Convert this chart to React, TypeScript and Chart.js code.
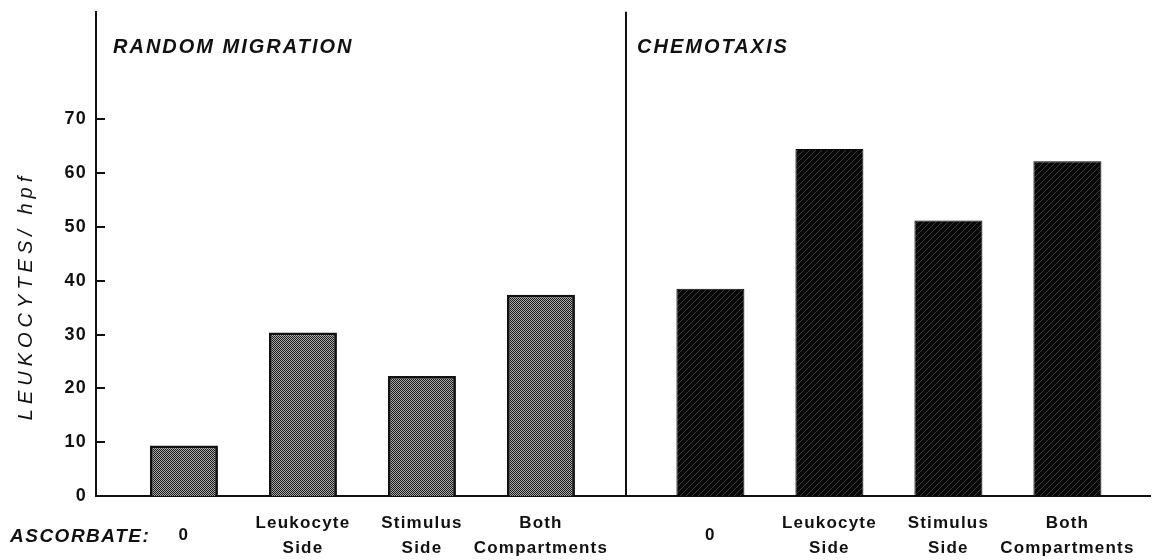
import React, { useEffect, useRef } from 'react';
import { Chart, registerables } from 'chart.js';

Chart.register(...registerables);

// ---- data ----
const conditionLabels: string[][] = [['0'], ['Leukocyte', 'Side'], ['Stimulus', 'Side'], ['Both', 'Compartments']];
const randomMigration = [9.4, 30.4, 22.3, 37.4];
const chemotaxis = [38.5, 64.5, 51.2, 62.2];
const panelTitles = ['RANDOM MIGRATION', 'CHEMOTAXIS'];
const yTickValues = [0, 10, 20, 30, 40, 50, 60, 70];
const yAxisTitle = 'LEUKOCYTES/ hpf';
const xAxisTitle = 'ASCORBATE:';

// ---- layout (in x-scale slot units) ----
const GROUP_OFFSET = 4.424;
const DIVIDER = 3.714;
const X_MIN = -0.739;
const X_MAX = 8.118;
const Y_MAX = 90;

const FONT = '"Liberation Sans", Arial, sans-serif';

function makeStipple(): CanvasPattern | string {
  const c = document.createElement('canvas');
  c.width = 2; c.height = 2;
  const g = c.getContext('2d');
  if (!g) return '#666';
  g.fillStyle = '#a9a9a9';
  g.fillRect(0, 0, 2, 2);
  g.fillStyle = '#1c1c1c';
  g.fillRect(0, 0, 1, 1);
  g.fillRect(1, 1, 1, 1);
  return g.createPattern(c, 'repeat') || '#666';
}

function makeHatch(): CanvasPattern | string {
  const s = 6;
  const c = document.createElement('canvas');
  c.width = s; c.height = s;
  const g = c.getContext('2d');
  if (!g) return '#111';
  g.fillStyle = '#080808';
  g.fillRect(0, 0, s, s);
  g.strokeStyle = '#484848';
  g.lineWidth = 0.8;
  for (let i = -1; i <= 1; i++) {
    g.beginPath();
    g.moveTo(i * s, s);
    g.lineTo(i * s + s, 0);
    g.stroke();
  }
  return g.createPattern(c, 'repeat') || '#111';
}

export default function App() {
  const ref = useRef<HTMLCanvasElement | null>(null);

  useEffect(() => {
    const canvas = ref.current;
    if (!canvas) return;

    const rmPoints = randomMigration.map((v, i) => ({ x: i, y: v }));
    const ctPoints = chemotaxis.map((v, i) => ({ x: i + GROUP_OFFSET, y: v }));
    const tickPositions = [...rmPoints.map(p => p.x), ...ctPoints.map(p => p.x)];

    const decor = {
      id: 'decor',
      beforeDraw(chart: any) {
        (chart.ctx as any).letterSpacing = '1.2px';
      },
      beforeDatasetsDraw(chart: any) {
        (chart.ctx as any).letterSpacing = '0px';
      },
      afterDraw(chart: any) {
        const ctx = chart.ctx as CanvasRenderingContext2D & { letterSpacing?: string };
        const xs = chart.scales.x;
        const ys = chart.scales.y;
        const area = chart.chartArea;
        ctx.save();
        ctx.strokeStyle = '#111';
        ctx.lineWidth = 2;
        // divider
        const dx = Math.round(xs.getPixelForValue(DIVIDER));
        ctx.beginPath();
        ctx.moveTo(dx, area.top);
        ctx.lineTo(dx, area.bottom);
        ctx.stroke();
        // inward y ticks
        yTickValues.forEach(v => {
          const py = Math.round(ys.getPixelForValue(v));
          ctx.beginPath();
          ctx.moveTo(area.left, py);
          ctx.lineTo(area.left + 9, py);
          ctx.stroke();
        });
        ctx.fillStyle = '#111';
        // panel titles
        ctx.font = `italic bold 20px ${FONT}`;
        ctx.letterSpacing = '2px';
        ctx.textAlign = 'left';
        ctx.textBaseline = 'middle';
        ctx.fillText(panelTitles[0], area.left + 17, 47);
        ctx.fillText(panelTitles[1], dx + 11, 47);
        // x axis title
        ctx.font = `italic bold 19px ${FONT}`;
        ctx.letterSpacing = '1.5px';
        ctx.fillText(xAxisTitle, 10, 537);
        // y axis title
        ctx.font = `italic 20px ${FONT}`;
        ctx.letterSpacing = '5px';
        ctx.translate(26, 298);
        ctx.rotate(-Math.PI / 2);
        ctx.textAlign = 'center';
        ctx.fillText(yAxisTitle, 2, 0);
        ctx.restore();
        ctx.letterSpacing = '0px';
      },
    };

    const chart = new Chart(canvas, {
      type: 'bar',
      data: {
        datasets: [
          {
            label: panelTitles[0],
            data: rmPoints,
            backgroundColor: makeStipple() as any,
            borderColor: '#111',
            borderWidth: 2.8,
          },
          {
            label: panelTitles[1],
            data: ctPoints,
            backgroundColor: makeHatch() as any,
            borderColor: '#050505',
            borderWidth: 1,
          },
        ],
      },
      options: {
        responsive: false,
        animation: false,
        events: [],
        layout: { padding: { left: 0, top: 5, right: 2, bottom: 0 } },
        datasets: { bar: { grouped: false, categoryPercentage: 1, barPercentage: 68 / 119 } } as any,
        plugins: { legend: { display: false }, tooltip: { enabled: false }, title: { display: false } },
        scales: {
          x: {
            type: 'linear',
            min: X_MIN,
            max: X_MAX,
            offset: false,
            grid: { display: false },
            border: { display: true, color: '#111', width: 2 },
            afterBuildTicks: (s: any) => {
              s.ticks = tickPositions.map(v => ({ value: v }));
            },
            afterFit: (s: any) => {
              s.height = 64;
            },
            ticks: {
              autoSkip: false,
              maxRotation: 0,
              minRotation: 0,
              padding: 19,
              crossAlign: 'center',
              color: '#111',
              font: { family: FONT, size: 17, weight: 'bold', lineHeight: 1.47 },
              callback: (_v: any, i: number) => conditionLabels[i % conditionLabels.length],
            },
          } as any,
          y: {
            type: 'linear',
            min: 0,
            max: Y_MAX,
            grid: { display: false },
            border: { display: true, color: '#111', width: 2 },
            afterBuildTicks: (s: any) => {
              s.ticks = yTickValues.map(v => ({ value: v }));
            },
            afterFit: (s: any) => {
              s.width = 96;
            },
            ticks: {
              padding: 1,
              color: '#111',
              font: { family: FONT, size: 18, weight: 'bold' },
            },
          } as any,
        },
      },
      plugins: [decor as any],
    });

    return () => chart.destroy();
  }, []);

  return (
    <div style={{ position: 'absolute', left: 0, top: 0, width: 1152, height: 560, background: '#fff' }}>
      <canvas ref={ref} width={1152} height={560} style={{ display: 'block' }} />
    </div>
  );
}
